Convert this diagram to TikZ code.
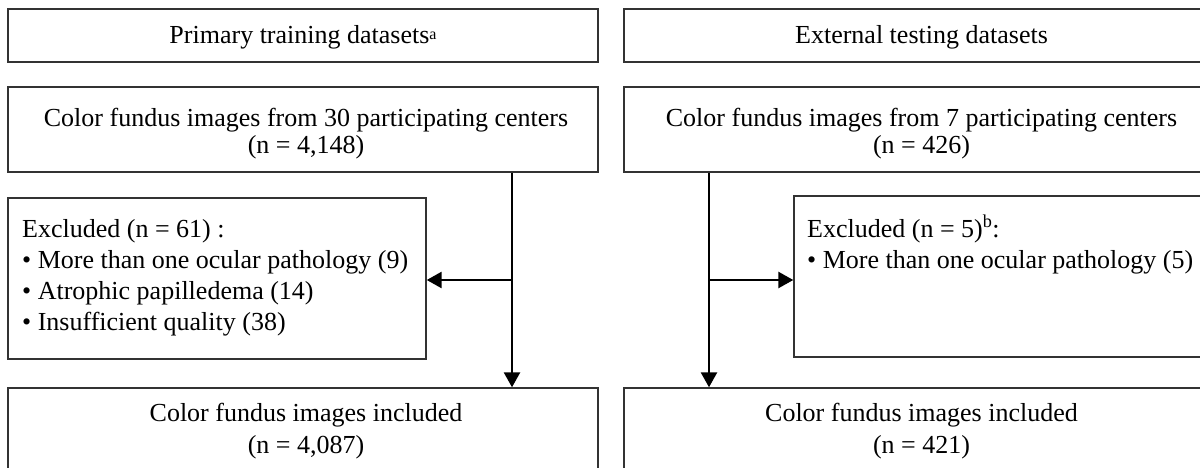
\documentclass[tikz,border=0pt]{standalone}
\usepackage{fontspec}
\setmainfont{Liberation Serif}
\usetikzlibrary{arrows.meta}
\tikzset{
  box/.style={draw=black!80, line width=1.4pt, rectangle, inner sep=0pt},
  txt/.style={font=\fontsize{26}{24}\selectfont, anchor=base, inner sep=0pt},
  txtl/.style={txt, anchor=base west},
  flow/.style={draw=black, line width=2.6pt},
  arr/.style={flow, -{Triangle[length=15pt,width=16pt]}}
}
\begin{document}
\begin{tikzpicture}[x=1pt,y=-1pt]
\useasboundingbox (0,0) rectangle (1200,468);
\clip (0,0) rectangle (1200,468);
% left column boxes
\node[box, minimum width=590pt, minimum height=53pt] (lh) at (303,35.5) {};
\node[box, minimum width=590pt, minimum height=85pt] (l2) at (303,129.5) {};
\node[box, minimum width=418pt, minimum height=161pt] (lex) at (217,278.5) {};
\node[box, minimum width=590pt, minimum height=87pt] (l3) at (303,431.5) {};
% right column boxes
\node[box, minimum width=595pt, minimum height=53pt] (rh) at (921.5,35.5) {};
\node[box, minimum width=595pt, minimum height=85pt] (r2) at (921.5,129.5) {};
\node[box, minimum width=425pt, minimum height=161pt] (rex) at (1006.5,276.5) {};
\node[box, minimum width=595pt, minimum height=87pt] (r3) at (921.5,431.5) {};
% texts left
\node[txt] (lht) at (303,44) {Primary training datasets\raisebox{4pt}{\fontsize{16}{16}\selectfont a}};
\node[txt] (l2a) at (306,127) {Color fundus images from 30 participating centers};
\node[txt] (l2b) at (306,154) {(n = 4,148)};
\node[txtl] (lex1) at (22,237) {Excluded (n = 61) :};
\node[txtl] (lex2) at (22,268) {• More than one ocular pathology (9)};
\node[txtl] (lex3) at (22,299) {• Atrophic papilledema (14)};
\node[txtl] (lex4) at (22,330) {• Insufficient quality (38)};
\node[txt] (l3a) at (306,421) {Color fundus images included};
\node[txt] (l3b) at (306,453) {(n = 4,087)};
% texts right
\node[txt] (rht) at (921.5,44) {External testing datasets};
\node[txt] (r2a) at (921.5,127) {Color fundus images from 7 participating centers};
\node[txt] (r2b) at (921.5,154) {(n = 426)};
\node[txtl] (rex1) at (807,237) {Excluded (n = 5)\textsuperscript{b}:};
\node[txtl] (rex2) at (807,268) {• More than one ocular pathology (5)};
\node[txt] (r3a) at (921.5,421) {Color fundus images included};
\node[txt] (r3b) at (921.5,453) {(n = 421)};
% connectors
\coordinate (lj) at (512,280);
\coordinate (rj) at (709,280);
\draw[flow] (l2.south -| lj) -- (lj);
\draw[arr] (lj) -- (lex.east |- lj);
\draw[arr] (lj) -- (lj |- l3.north);
\draw[flow] (r2.south -| rj) -- (rj);
\draw[arr] (rj) -- (rex.west |- rj);
\draw[arr] (rj) -- (rj |- r3.north);
\end{tikzpicture}
\end{document}
